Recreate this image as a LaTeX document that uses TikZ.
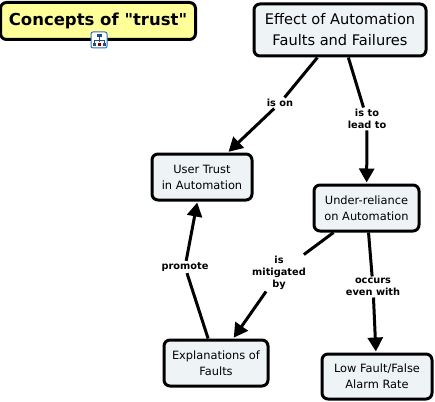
\documentclass[tikz,border=0pt]{standalone}
\usepackage{fontspec}
\setmainfont{DejaVu Sans}
\newfontfamily\plainquotes{DejaVu Sans}[Ligatures=TeXOff]
\usetikzlibrary{arrows.meta}
\tikzset{
  concept/.style={draw=black,line width=3pt,rounded corners=6pt,fill=boxfill,align=center,text=black,inner sep=0pt},
  smallbox/.style={concept,font=\fontsize{11.4}{16}\selectfont},
  linklabel/.style={align=center,font=\fontsize{9.8}{12}\selectfont\bfseries,inner sep=1.5pt},
  link/.style={line width=3pt},
  linkarrow/.style={line width=3pt,-{Triangle[length=14pt,width=15pt]},shorten >=1pt},
}
\definecolor{boxfill}{HTML}{EEF3F6}
\definecolor{titlefill}{HTML}{FFFF99}
\definecolor{iconblue}{HTML}{2F6FC0}
\begin{document}
\begin{tikzpicture}[x=1pt,y=-1pt]
\useasboundingbox (0,0) rectangle (435,401);
\node[concept,fill=titlefill,minimum width=195pt,minimum height=37pt,font=\fontsize{16.5}{20}\plainquotes\bfseries\selectfont] (title) at (98,21) {Concepts of "trust"};
\node[concept,minimum width=172pt,minimum height=52pt,font=\fontsize{14.6}{21}\selectfont] (effect) at (340,30) {Effect of Automation\\Faults and Failures};
\node[smallbox,minimum width=100pt,minimum height=46pt] (user) at (202,177) {User Trust\\in Automation};
\node[smallbox,minimum width=105pt,minimum height=46pt] (under) at (366.5,208) {Under-reliance\\on Automation};
\node[smallbox,minimum width=104pt,minimum height=46pt] (expl) at (216,363) {Explanations of\\Faults};
\node[smallbox,minimum width=110pt,minimum height=45pt] (low) at (377,376.5) {Low Fault/False\\Alarm Rate};
\node[linklabel] (ison) at (280,103) {is on};
\node[linklabel] (lead) at (367,119) {is to\\lead to};
\node[linklabel] (mit) at (279,273) {is\\mitigated\\by};
\node[linklabel] (occ) at (373,287) {occurs\\even with};
\node[linklabel] (prom) at (185,267) {promote};
\draw[link] (effect) -- (ison);
\draw[linkarrow] (ison) -- (user);
\draw[link] (effect) -- (lead);
\draw[linkarrow] (lead) -- (under);
\draw[link] (under) -- (mit);
\draw[linkarrow] (mit) -- (expl);
\draw[link] (under) -- (occ);
\draw[linkarrow] (occ) -- (low);
\draw[link] (expl) -- (prom);
\draw[linkarrow] (prom) -- (user);
% concept-map icon
\node[draw=iconblue,fill=white,line width=1pt,rounded corners=2pt,minimum width=16pt,minimum height=16pt,inner sep=0pt] (icon) at (99,40) {};
\fill[iconblue!70!black] (96.5,34) rectangle (101.5,37);
\draw[iconblue!70!black,line width=0.8pt] (99,37) -- (99,42) (94,43) -- (94,40) -- (104,40) -- (104,43);
\fill[iconblue!70!black] (92.5,43) rectangle (95.5,46);
\fill[red!50!black] (97.5,43) rectangle (100.5,46);
\fill[iconblue!70!black] (102.5,43) rectangle (105.5,46);
\end{tikzpicture}
\end{document}
